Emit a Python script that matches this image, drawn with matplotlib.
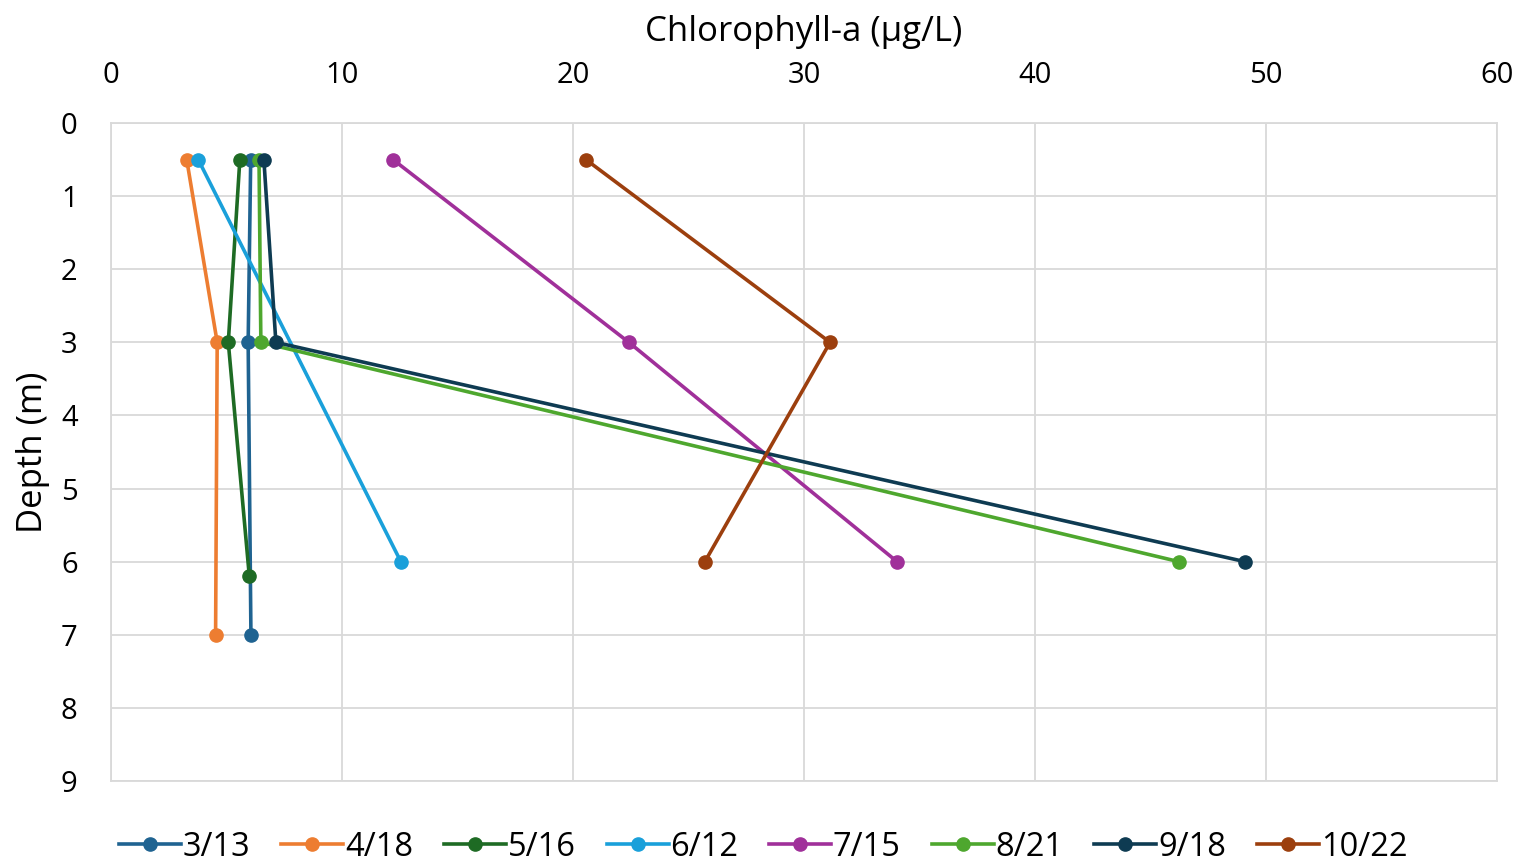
import numpy as np
import matplotlib
matplotlib.use('Agg')
import matplotlib.pyplot as plt

plt.rcParams['font.family'] = ['Open Sans', 'DejaVu Sans']

# chlorophyll-a (ug/L) vs depth (m) for each sampling date
dates = ['3/13', '4/18', '5/16', '6/12', '7/15', '8/21', '9/18', '10/22']
depth_313 = [0.5, 3, 7]
chl_313 = [6.05, 5.94, 6.06]
depth_418 = [0.5, 3, 7]
chl_418 = [3.28, 4.6, 4.53]
depth_516 = [0.5, 3, 6.2]
chl_516 = [5.58, 5.08, 5.99]
depth_612 = [0.5, 6]
chl_612 = [3.78, 12.55]
depth_715 = [0.5, 3, 6]
chl_715 = [12.21, 22.42, 34.03]
depth_821 = [0.5, 3, 6]
chl_821 = [6.41, 6.49, 46.23]
depth_918 = [0.5, 3, 6]
chl_918 = [6.62, 7.14, 49.09]
depth_1022 = [0.5, 3, 6]
chl_1022 = [20.56, 31.13, 25.71]

colors = ['#1F6391', '#ED7D31', '#1E6B24', '#1AA0DA',
          '#A0309A', '#4EA72E', '#0E3B52', '#9C3F0E']

series = [(chl_313, depth_313), (chl_418, depth_418), (chl_516, depth_516),
          (chl_612, depth_612), (chl_715, depth_715), (chl_821, depth_821),
          (chl_918, depth_918), (chl_1022, depth_1022)]

fig = plt.figure(figsize=(15.26, 8.67), dpi=100)
ax = fig.add_axes([0.0727, 0.0992, 0.9083, 0.7589])

for (x, y), lab, c in zip(series, dates, colors):
    ax.plot(x, y, color=c, lw=2.6, marker='o', ms=9.5, label=lab)

ax.set_xlim(0, 60)
ax.set_ylim(9, 0)
ax.set_xticks(np.arange(0, 61, 10))
ax.set_yticks(np.arange(0, 10, 1))
ax.xaxis.tick_top()
ax.xaxis.set_label_position('top')
ax.tick_params(length=0, labelsize=21)
ax.tick_params(axis='x', pad=24)
ax.tick_params(axis='y', pad=24)
ax.grid(True, color='#d9d9d9', lw=1.3)
for s in ax.spines.values():
    s.set_color('#d9d9d9')
    s.set_linewidth(1.3)
ax.set_axisbelow(True)
ax.set_xlabel('Chlorophyll-a (µg/L)', fontsize=25, labelpad=14)
ax.set_ylabel('Depth (m)', fontsize=25, labelpad=8)

leg = fig.legend(loc='lower center', ncol=8, frameon=False, fontsize=23.5,
                 bbox_to_anchor=(0.5, -0.03), handlelength=1.9,
                 handletextpad=0.05, columnspacing=0.95)

fig.savefig('out.png', dpi=100)
